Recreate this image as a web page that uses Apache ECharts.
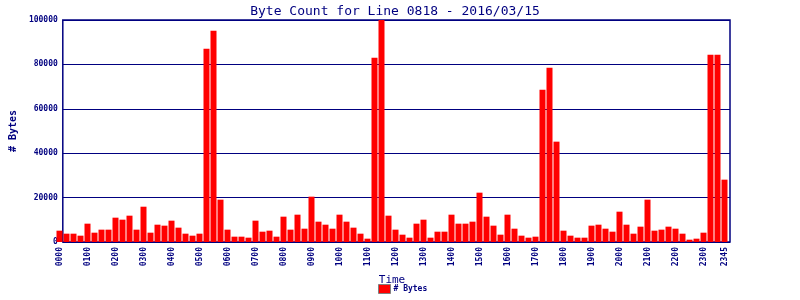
<!DOCTYPE html>
<html><head><meta charset="utf-8">
<script src="https://cdn.jsdelivr.net/npm/echarts@6/dist/echarts.min.js"></script>
<style>html,body{margin:0;padding:0;background:#fff}#c{width:800px;height:300px}</style>
</head><body><div id="c"></div>
<script>
var times = [];
for (var h = 0; h < 24; h++) { for (var m = 0; m < 60; m += 15) { times.push((h < 10 ? '0' : '') + h + (m < 10 ? '0' : '') + m); } }
var bytes = [
 5100, 3750, 3750, 2850, 8260, 4200, 5560, 5560, 10960, 10060, 11860, 5560,
 15900, 4200, 7800, 7360, 9610, 6460, 3750, 2850, 3750, 87090, 95200, 19070,
 5560, 2400, 2400, 1950, 9610, 4650, 5100, 2400, 11410, 5560, 12310, 6000,
 20420, 9160, 7800, 6000, 12310, 9160, 6460, 3750, 1500, 83030, 100000, 11860,
 5560, 3300, 1950, 8260, 10060, 1950, 4650, 4650, 12310, 8260, 8260, 9160,
 22220, 11410, 7360, 3300, 12310, 6000, 2850, 1950, 2400, 68620, 78530, 45200,
 5100, 2850, 1950, 1950, 7360, 7800, 6000, 4650, 13660, 7800, 3750, 6910,
 19070, 5100, 5560, 6910, 6000, 3750, 1050, 1500, 4200, 84380, 84380, 28080
];
var yTicks = [0, 20000, 40000, 60000, 80000, 100000];
var navy = '#000080';
var font = 'DejaVu Sans Mono';
var chart = echarts.init(document.getElementById('c'));
chart.setOption({
  animation: false,
  title: { text: 'Byte Count for Line 0818 - 2016/03/15', left: 390, textAlign: 'center', top: 0,
    textStyle: { color: navy, fontFamily: font, fontSize: 13, fontWeight: 'normal' } },
  legend: { bottom: 1, left: 373, itemWidth: 12, itemHeight: 9, itemGap: 4,
    data: [{ name: '# Bytes', icon: 'rect' }],
    itemStyle: { borderColor: '#808080', borderWidth: 1 },
    textStyle: { color: navy, fontFamily: font, fontSize: 8, fontWeight: 'bold', padding: [0, 0, 0, -2] } },
  grid: [
    { left: 52, right: 70, top: 20, bottom: 58, show: true, borderColor: navy, borderWidth: 1.5, backgroundColor: 'transparent' },
    { left: 56, right: 72, top: 20, bottom: 58 }
  ],
  xAxis: [
    { type: 'value', gridIndex: 0, show: false, min: 0, max: 1 },
    { type: 'category', gridIndex: 1, data: times,
      name: 'Time', nameLocation: 'middle', nameGap: 27,
      nameTextStyle: { color: navy, fontFamily: font, fontSize: 11 },
      axisLine: { show: false }, axisTick: { show: false },
      axisLabel: { rotate: 90, color: navy, fontFamily: font, fontSize: 8, fontWeight: 'bold', margin: 5,
        interval: function (i) { return i % 4 === 0 || i === times.length - 1; } } }
  ],
  yAxis: [
    { type: 'value', gridIndex: 0, min: yTicks[0], max: yTicks[yTicks.length - 1], interval: 20000,
      name: '# Bytes', nameLocation: 'middle', nameGap: 38,
      nameTextStyle: { color: navy, fontFamily: font, fontSize: 10, fontWeight: 'bold' },
      axisLine: { show: false }, axisTick: { show: false },
      axisLabel: { color: navy, fontFamily: font, fontSize: 8, fontWeight: 'bold', margin: 5,
        formatter: function (v) { return String(v); } },
      splitLine: { lineStyle: { color: navy, width: 1.2 } } },
    { type: 'value', gridIndex: 1, min: yTicks[0], max: yTicks[yTicks.length - 1], show: false }
  ],
  series: [
    { name: '# Bytes', type: 'bar', xAxisIndex: 1, yAxisIndex: 1, data: bytes, barWidth: 6,
      itemStyle: { color: '#ff0000' } }
  ]
});
</script></body></html>
